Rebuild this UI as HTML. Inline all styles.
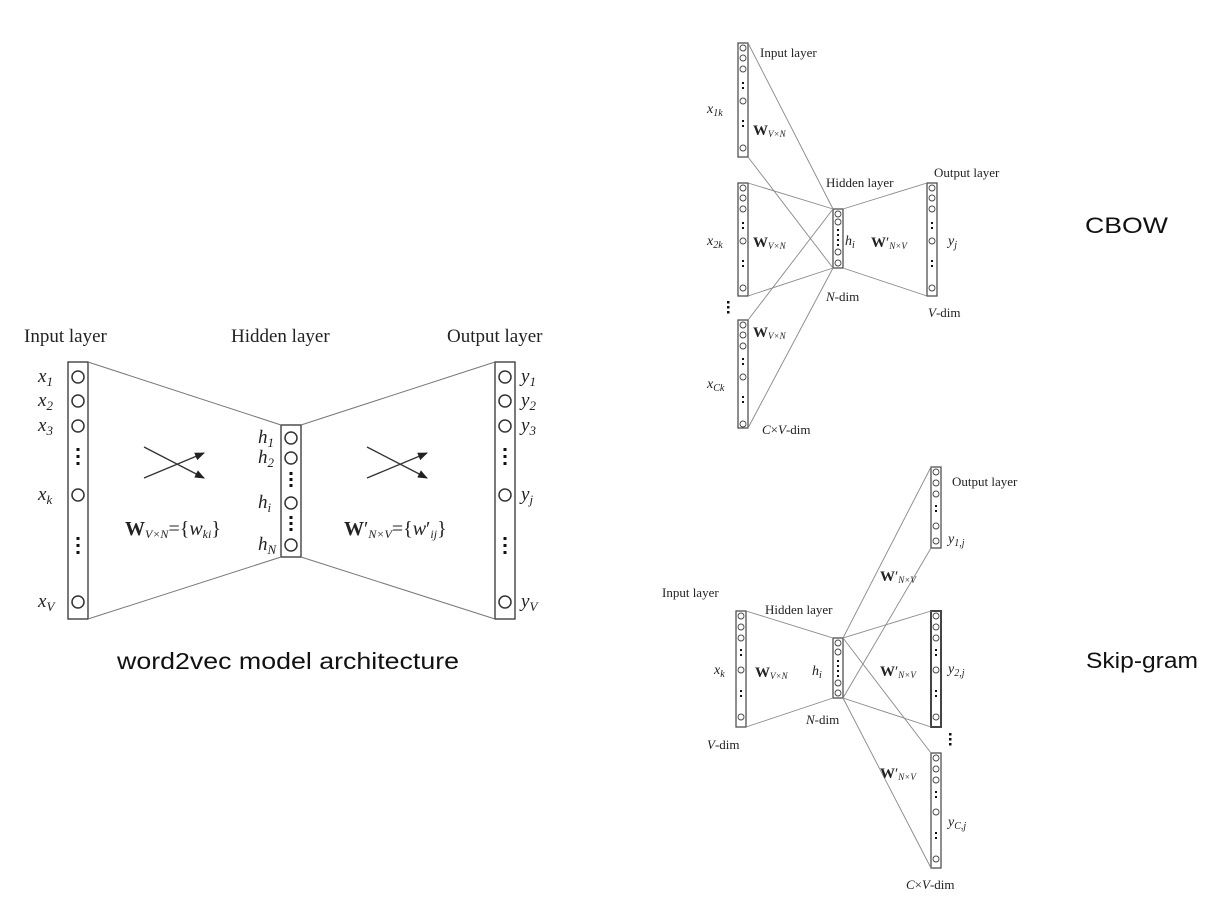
<!DOCTYPE html>
<html><head><meta charset="utf-8"><style>
html,body{margin:0;padding:0;background:#fff;}
svg{display:block;}
.t{font-family:"Liberation Serif",serif;fill:#222;}
.a{font-family:"Liberation Sans",sans-serif;fill:#111;}
</style></head><body>
<svg width="1220" height="912" viewBox="0 0 1220 912" xmlns="http://www.w3.org/2000/svg">
<defs>
<marker id="ah" markerWidth="10" markerHeight="8" refX="9" refY="4" orient="auto" markerUnits="userSpaceOnUse">
<path d="M0,0 L10,4 L0,8 Z" fill="#222"/></marker>
</defs>
<g stroke="#333" fill="none" stroke-width="1.3">
<rect x="68" y="362" width="20" height="257"/>
<rect x="281" y="425" width="20" height="132"/>
<rect x="495" y="362" width="20" height="257"/>
<g stroke="#777" stroke-width="1">
<line x1="88" y1="362" x2="281" y2="425"/><line x1="88" y1="619" x2="281" y2="557"/>
<line x1="301" y1="425" x2="495" y2="362"/><line x1="301" y1="557" x2="495" y2="619"/>
</g>
<g stroke-width="1.5">
<circle cx="78" cy="377" r="6"/><circle cx="78" cy="401" r="6"/><circle cx="78" cy="426" r="6"/><circle cx="78" cy="495" r="6"/><circle cx="78" cy="602" r="6"/>
<circle cx="505" cy="377" r="6"/><circle cx="505" cy="401" r="6"/><circle cx="505" cy="426" r="6"/><circle cx="505" cy="495" r="6"/><circle cx="505" cy="602" r="6"/>
<circle cx="291" cy="438" r="6"/><circle cx="291" cy="458" r="6"/><circle cx="291" cy="503" r="6"/><circle cx="291" cy="545" r="6"/>
</g>
<line x1="144" y1="478" x2="204" y2="453" marker-end="url(#ah)"/>
<line x1="144" y1="447" x2="204" y2="478" marker-end="url(#ah)"/>
<line x1="367" y1="478" x2="427" y2="453" marker-end="url(#ah)"/>
<line x1="367" y1="447" x2="427" y2="478" marker-end="url(#ah)"/>
</g>
<g fill="#111">
<rect x="76.5" y="448" width="3" height="3"/><rect x="76.5" y="455" width="3" height="3"/><rect x="76.5" y="462" width="3" height="3"/>
<rect x="76.5" y="537" width="3" height="3"/><rect x="76.5" y="544" width="3" height="3"/><rect x="76.5" y="551" width="3" height="3"/>
<rect x="503.5" y="448" width="3" height="3"/><rect x="503.5" y="455" width="3" height="3"/><rect x="503.5" y="462" width="3" height="3"/>
<rect x="503.5" y="537" width="3" height="3"/><rect x="503.5" y="544" width="3" height="3"/><rect x="503.5" y="551" width="3" height="3"/>
<rect x="289.5" y="472" width="3" height="3"/><rect x="289.5" y="478" width="3" height="3"/><rect x="289.5" y="484" width="3" height="3"/>
<rect x="289.5" y="516" width="3" height="3"/><rect x="289.5" y="522" width="3" height="3"/><rect x="289.5" y="528" width="3" height="3"/>
</g>
<g class="t" font-size="19">
<text x="24" y="342">Input layer</text>
<text x="231" y="342">Hidden layer</text>
<text x="447" y="342">Output layer</text>
</g>
<g class="t" font-size="19" font-style="italic">
<text x="38" y="382">x<tspan font-size="13" dy="4">1</tspan></text>
<text x="38" y="406">x<tspan font-size="13" dy="4">2</tspan></text>
<text x="38" y="431">x<tspan font-size="13" dy="4">3</tspan></text>
<text x="38" y="500">x<tspan font-size="13" dy="4">k</tspan></text>
<text x="38" y="607">x<tspan font-size="13" dy="4">V</tspan></text>
<text x="521" y="382">y<tspan font-size="13" dy="4">1</tspan></text>
<text x="521" y="406">y<tspan font-size="13" dy="4">2</tspan></text>
<text x="521" y="431">y<tspan font-size="13" dy="4">3</tspan></text>
<text x="521" y="500">y<tspan font-size="13" dy="4">j</tspan></text>
<text x="521" y="607">y<tspan font-size="13" dy="4">V</tspan></text>
<text x="258" y="443">h<tspan font-size="13" dy="4">1</tspan></text>
<text x="258" y="463">h<tspan font-size="13" dy="4">2</tspan></text>
<text x="258" y="508">h<tspan font-size="13" dy="4">i</tspan></text>
<text x="258" y="550">h<tspan font-size="13" dy="4">N</tspan></text>
</g>
<text class="t" x="125" y="535" font-size="20"><tspan font-weight="bold" font-style="normal">W</tspan><tspan font-size="12" font-style="italic" dy="3">V×N</tspan><tspan dy="-3">={</tspan><tspan font-style="italic">w</tspan><tspan font-size="12" font-style="italic" dy="3">ki</tspan><tspan dy="-3">}</tspan></text>
<text class="t" x="344" y="535" font-size="20"><tspan font-weight="bold">W</tspan>′<tspan font-size="12" font-style="italic" dy="3">N×V</tspan><tspan dy="-3">={</tspan><tspan font-style="italic">w</tspan>′<tspan font-size="12" font-style="italic" dy="3">ij</tspan><tspan dy="-3">}</tspan></text>
<text class="a" x="117" y="669" font-size="23" textLength="342" lengthAdjust="spacingAndGlyphs">word2vec model architecture</text>

<g stroke="#444" fill="none" stroke-width="1.2">
<rect x="738" y="43" width="10" height="114"/>
<rect x="738" y="183" width="10" height="113"/>
<rect x="738" y="320" width="10" height="108"/>
<rect x="833" y="209" width="10" height="59"/>
<rect x="927" y="183" width="10" height="113"/>
<g stroke="#888" stroke-width="0.9">
<line x1="748" y1="43" x2="833" y2="209"/><line x1="748" y1="157" x2="833" y2="268"/>
<line x1="748" y1="183" x2="833" y2="209"/><line x1="748" y1="296" x2="833" y2="268"/>
<line x1="748" y1="320" x2="833" y2="209"/><line x1="748" y1="428" x2="833" y2="268"/>
<line x1="843" y1="209" x2="927" y2="183"/><line x1="843" y1="268" x2="927" y2="296"/>
</g>
<g stroke-width="0.9">
<circle cx="743" cy="48" r="3"/><circle cx="743" cy="58" r="3"/><circle cx="743" cy="69" r="3"/><circle cx="743" cy="101" r="3"/><circle cx="743" cy="148" r="3"/>
<circle cx="743" cy="188" r="3"/><circle cx="743" cy="198" r="3"/><circle cx="743" cy="209" r="3"/><circle cx="743" cy="241" r="3"/><circle cx="743" cy="288" r="3"/>
<circle cx="743" cy="325" r="3"/><circle cx="743" cy="335" r="3"/><circle cx="743" cy="346" r="3"/><circle cx="743" cy="377" r="3"/><circle cx="743" cy="424" r="3"/>
<circle cx="932" cy="188" r="3"/><circle cx="932" cy="198" r="3"/><circle cx="932" cy="209" r="3"/><circle cx="932" cy="241" r="3"/><circle cx="932" cy="288" r="3"/>
<circle cx="838" cy="214" r="3"/><circle cx="838" cy="222" r="3"/><circle cx="838" cy="252" r="3"/><circle cx="838" cy="263" r="3"/>
</g>
</g>
<g fill="#111">
<rect x="742" y="82" width="2" height="2"/><rect x="742" y="87" width="2" height="2"/>
<rect x="742" y="120" width="2" height="2"/><rect x="742" y="125" width="2" height="2"/>
<rect x="742" y="222" width="2" height="2"/><rect x="742" y="227" width="2" height="2"/>
<rect x="742" y="260" width="2" height="2"/><rect x="742" y="265" width="2" height="2"/>
<rect x="742" y="358" width="2" height="2"/><rect x="742" y="363" width="2" height="2"/>
<rect x="742" y="396" width="2" height="2"/><rect x="742" y="401" width="2" height="2"/>
<rect x="931" y="222" width="2" height="2"/><rect x="931" y="227" width="2" height="2"/>
<rect x="931" y="260" width="2" height="2"/><rect x="931" y="265" width="2" height="2"/>
<rect x="837" y="229" width="2" height="2"/><rect x="837" y="234" width="2" height="2"/><rect x="837" y="239" width="2" height="2"/><rect x="837" y="244" width="2" height="2"/>
<rect x="727" y="301" width="2.5" height="2.5"/><rect x="727" y="306" width="2.5" height="2.5"/><rect x="727" y="311" width="2.5" height="2.5"/>
</g>
<g class="t" font-size="13">
<text x="760" y="57">Input layer</text>
<text x="826" y="187">Hidden layer</text>
<text x="934" y="177">Output layer</text>
<text x="826" y="301"><tspan font-style="italic">N</tspan>-dim</text>
<text x="928" y="317"><tspan font-style="italic">V</tspan>-dim</text>
<text x="762" y="434"><tspan font-style="italic">C</tspan>×<tspan font-style="italic">V</tspan>-dim</text>
</g>
<g class="t" font-size="14" font-style="italic">
<text x="707" y="113">x<tspan font-size="10" dy="3">1k</tspan></text>
<text x="707" y="245">x<tspan font-size="10" dy="3">2k</tspan></text>
<text x="707" y="388">x<tspan font-size="10" dy="3">Ck</tspan></text>
<text x="845" y="245">h<tspan font-size="10" dy="3">i</tspan></text>
<text x="948" y="245">y<tspan font-size="10" dy="3">j</tspan></text>
</g>
<g class="t" font-size="15">
<text x="753" y="135"><tspan font-weight="bold">W</tspan><tspan font-size="9" font-style="italic" dy="2">V×N</tspan></text>
<text x="753" y="247"><tspan font-weight="bold">W</tspan><tspan font-size="9" font-style="italic" dy="2">V×N</tspan></text>
<text x="753" y="337"><tspan font-weight="bold">W</tspan><tspan font-size="9" font-style="italic" dy="2">V×N</tspan></text>
<text x="871" y="247"><tspan font-weight="bold">W</tspan>′<tspan font-size="9" font-style="italic" dy="2">N×V</tspan></text>
</g>
<text class="a" x="1085" y="233" font-size="22" textLength="83" lengthAdjust="spacingAndGlyphs">CBOW</text>

<g stroke="#444" fill="none" stroke-width="1.2">
<rect x="736" y="611" width="10" height="116"/>
<rect x="833" y="638" width="10" height="60"/>
<rect x="931" y="467" width="10" height="81"/>
<rect x="931" y="611" width="10" height="116" stroke-width="2"/>
<rect x="931" y="753" width="10" height="115"/>
<g stroke="#888" stroke-width="0.9">
<line x1="746" y1="611" x2="833" y2="638"/><line x1="746" y1="727" x2="833" y2="698"/>
<line x1="843" y1="638" x2="931" y2="467"/><line x1="843" y1="698" x2="931" y2="548"/>
<line x1="843" y1="638" x2="931" y2="611"/><line x1="843" y1="698" x2="931" y2="727"/>
<line x1="843" y1="638" x2="931" y2="753"/><line x1="843" y1="698" x2="931" y2="868"/>
</g>
<g stroke-width="0.9">
<circle cx="741" cy="616" r="3"/><circle cx="741" cy="627" r="3"/><circle cx="741" cy="638" r="3"/><circle cx="741" cy="670" r="3"/><circle cx="741" cy="717" r="3"/>
<circle cx="936" cy="472" r="3"/><circle cx="936" cy="483" r="3"/><circle cx="936" cy="494" r="3"/><circle cx="936" cy="526" r="3"/><circle cx="936" cy="541" r="3"/>
<circle cx="936" cy="616" r="3"/><circle cx="936" cy="627" r="3"/><circle cx="936" cy="638" r="3"/><circle cx="936" cy="670" r="3"/><circle cx="936" cy="717" r="3"/>
<circle cx="936" cy="758" r="3"/><circle cx="936" cy="769" r="3"/><circle cx="936" cy="780" r="3"/><circle cx="936" cy="812" r="3"/><circle cx="936" cy="859" r="3"/>
<circle cx="838" cy="643" r="3"/><circle cx="838" cy="652" r="3"/><circle cx="838" cy="683" r="3"/><circle cx="838" cy="693" r="3"/>
</g>
</g>
<g fill="#111">
<rect x="740" y="649" width="2" height="2"/><rect x="740" y="654" width="2" height="2"/>
<rect x="740" y="690" width="2" height="2"/><rect x="740" y="695" width="2" height="2"/>
<rect x="935" y="505" width="2" height="2"/><rect x="935" y="510" width="2" height="2"/>
<rect x="935" y="649" width="2" height="2"/><rect x="935" y="654" width="2" height="2"/>
<rect x="935" y="690" width="2" height="2"/><rect x="935" y="695" width="2" height="2"/>
<rect x="935" y="791" width="2" height="2"/><rect x="935" y="796" width="2" height="2"/>
<rect x="935" y="832" width="2" height="2"/><rect x="935" y="837" width="2" height="2"/>
<rect x="837" y="660" width="2" height="2"/><rect x="837" y="665" width="2" height="2"/><rect x="837" y="670" width="2" height="2"/><rect x="837" y="675" width="2" height="2"/>
<rect x="949" y="733" width="2.5" height="2.5"/><rect x="949" y="738" width="2.5" height="2.5"/><rect x="949" y="743" width="2.5" height="2.5"/>
</g>
<g class="t" font-size="13">
<text x="662" y="597">Input layer</text>
<text x="765" y="614">Hidden layer</text>
<text x="952" y="486">Output layer</text>
<text x="806" y="724"><tspan font-style="italic">N</tspan>-dim</text>
<text x="707" y="749"><tspan font-style="italic">V</tspan>-dim</text>
<text x="906" y="889"><tspan font-style="italic">C</tspan>×<tspan font-style="italic">V</tspan>-dim</text>
</g>
<g class="t" font-size="14" font-style="italic">
<text x="714" y="674">x<tspan font-size="10" dy="3">k</tspan></text>
<text x="812" y="675">h<tspan font-size="10" dy="3">i</tspan></text>
<text x="948" y="543">y<tspan font-size="10" dy="3">1,j</tspan></text>
<text x="948" y="673">y<tspan font-size="10" dy="3">2,j</tspan></text>
<text x="948" y="826">y<tspan font-size="10" dy="3">C,j</tspan></text>
</g>
<g class="t" font-size="15">
<text x="755" y="677"><tspan font-weight="bold">W</tspan><tspan font-size="9" font-style="italic" dy="2">V×N</tspan></text>
<text x="880" y="581"><tspan font-weight="bold">W</tspan>′<tspan font-size="9" font-style="italic" dy="2">N×V</tspan></text>
<text x="880" y="676"><tspan font-weight="bold">W</tspan>′<tspan font-size="9" font-style="italic" dy="2">N×V</tspan></text>
<text x="880" y="778"><tspan font-weight="bold">W</tspan>′<tspan font-size="9" font-style="italic" dy="2">N×V</tspan></text>
</g>
<text class="a" x="1086" y="668" font-size="22" textLength="112" lengthAdjust="spacingAndGlyphs">Skip-gram</text>
</svg>
</body></html>
